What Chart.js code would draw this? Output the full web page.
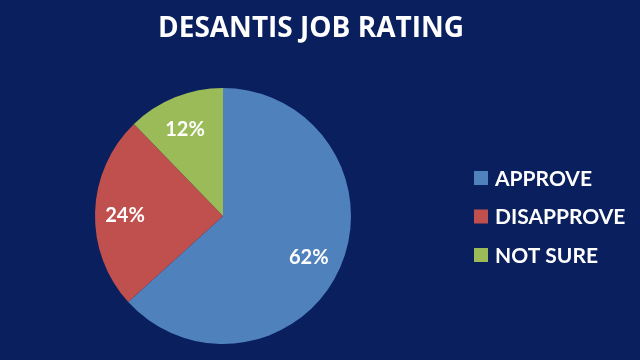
<!DOCTYPE html>
<html>
<head>
<meta charset="utf-8">
<script src="https://cdn.jsdelivr.net/npm/chart.js@4/dist/chart.umd.min.js"></script>
<style>
  html, body { margin: 0; padding: 0; background: #0a1f5d; }
  #wrap { width: 640px; height: 360px; position: relative; }
</style>
</head>
<body>
<div id="wrap"><canvas id="c" width="640" height="360"></canvas></div>
<script>
const titleText = "DESANTIS JOB RATING";
const categories = ["APPROVE", "DISAPPROVE", "NOT SURE"];
const values = [62, 24, 12];
const colors = ["#4f81bd", "#c0504d", "#9bbb59"];

const FONT = "Lato, 'Open Sans', sans-serif";

const sliceLabels = {
  id: 'sliceLabels',
  afterDatasetsDraw(chart) {
    const ctx = chart.ctx;
    const meta = chart.getDatasetMeta(0);
    ctx.save();
    ctx.fillStyle = '#ffffff';
    ctx.font = 'bold 20px ' + FONT;
    ctx.textAlign = 'center';
    ctx.textBaseline = 'middle';
    meta.data.forEach((arc, i) => {
      const p = arc.getProps(['x', 'y', 'startAngle', 'endAngle', 'outerRadius'], true);
      const mid = (p.startAngle + p.endAngle) / 2;
      const r = p.outerRadius * 0.75;
      ctx.fillText(values[i] + '%', p.x + Math.cos(mid) * r - 2, p.y + Math.sin(mid) * r + 3);
    });
    ctx.restore();
  }
};

const sideDecor = {
  id: 'sideDecor',
  afterDraw(chart) {
    const ctx = chart.ctx;
    ctx.save();
    // title
    ctx.fillStyle = '#ffffff';
    ctx.font = 'bold 28px "Open Sans", sans-serif';
    ctx.textAlign = 'center';
    ctx.textBaseline = 'middle';
    ctx.fillText(titleText, 311, 29);
    // legend
    ctx.font = 'bold 21px ' + FONT;
    ctx.textAlign = 'left';
    const x0 = 474, y0 = 178, gap = 38.5, box = 14;
    chart.data.labels.forEach((lab, i) => {
      const y = y0 + i * gap;
      ctx.fillStyle = chart.data.datasets[0].backgroundColor[i];
      ctx.fillRect(x0, y - box / 2, box, box);
      ctx.fillStyle = '#ffffff';
      ctx.fillText(lab, x0 + 21, y + 1);
    });
    ctx.restore();
  }
};

new Chart(document.getElementById('c'), {
  type: 'pie',
  data: {
    labels: categories,
    datasets: [{
      data: values,
      backgroundColor: colors,
      borderWidth: 0
    }]
  },
  options: {
    responsive: false,
    animation: false,
    layout: { padding: { left: 95, right: 289, top: 88, bottom: 16 } },
    plugins: {
      legend: { display: false },
      tooltip: { enabled: false },
      title: { display: false }
    }
  },
  plugins: [sliceLabels, sideDecor]
});
</script>
</body>
</html>
